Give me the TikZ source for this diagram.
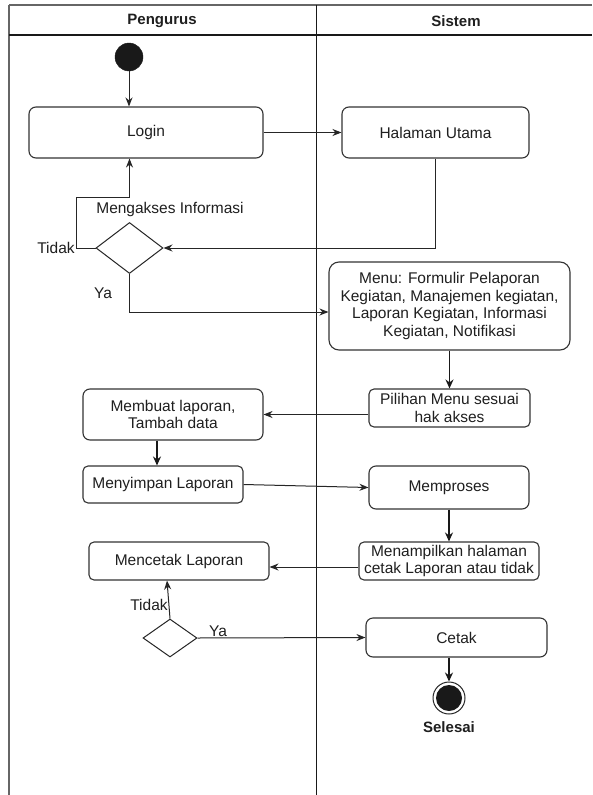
\documentclass[tikz,border=0pt]{standalone}
\usepackage{fontspec}
\setmainfont{Liberation Sans}
\usetikzlibrary{shapes.geometric,arrows.meta,calc}
\begin{document}
\begin{tikzpicture}[x=1pt,y=-1pt,
  every node/.style={font=\fontsize{15.5}{17.7}\selectfont, text=black!88},
  box/.style={draw=black!80, line width=1.1pt, rounded corners=7pt, inner sep=0pt, align=center},
  dec/.style={draw=black!85, line width=1pt, diamond, inner sep=0pt},
  arr/.style={draw=black!85, line width=1pt, -{Stealth[length=9pt,width=7pt]}},
  tarr/.style={draw=black!90, line width=1.8pt, -{Stealth[length=9pt,width=8pt]}},
  lab/.style={inner sep=0pt},
  hdr/.style={inner sep=0pt, font=\fontsize{15}{17}\selectfont\bfseries}
]
\useasboundingbox[fill=white] (0,0) rectangle (592,795);

% swimlane frame
\draw[black!60, line width=2pt] (9,5) -- (592,5);
\draw[black!60, line width=2pt] (9,5) -- (9,795);
\draw[black!90, line width=1.2pt] (9,35) -- (592,35);
\draw[black!90, line width=1pt] (316,5) -- (316,795);
\node[hdr] (pengurus) at (162,21) {Pengurus};
\node[hdr] (sistem) at (456,21) {Sistem};

% nodes
\node[circle, fill=black!90, draw=black!90, minimum size=28pt, inner sep=0pt] (start) at (129,57) {};
\node[box, minimum width=234pt, minimum height=51pt] (login) at (146,132.5) {Login};
\node[box, minimum width=187pt, minimum height=51pt] (halaman) at (435.5,132.5) {Halaman Utama};
\node[dec, minimum width=67pt, minimum height=51pt] (d1) at (129.5,248) {};
\node[lab] (meng) at (170,209) {Mengakses Informasi};
\node[lab] (tidak1) at (56,248) {Tidak};
\node[lab] (ya1) at (103,293) {Ya};
\node[box, rounded corners=10pt, minimum width=241pt, minimum height=88pt] (menu) at (449.5,306)
  {Menu: Formulir Pelaporan\\Kegiatan, Manajemen kegiatan,\\Laporan Kegiatan, Informasi\\Kegiatan, Notifikasi};
\node[box, rounded corners=5pt, minimum width=161pt, minimum height=38pt] (pilihan) at (449.5,408)
  {Pilihan Menu sesuai\\hak akses};
\node[box, minimum width=180pt, minimum height=51pt] (membuat) at (173,414.5)
  {Membuat laporan,\\Tambah data};
\node[box, rounded corners=5pt, minimum width=160pt, minimum height=37pt] (menyimpan) at (163,484.5)
  {Menyimpan Laporan};
\node[box, minimum width=160pt, minimum height=43pt] (memproses) at (449,487.5) {Memproses};
\node[box, rounded corners=5pt, minimum width=180pt, minimum height=38pt] (mencetak) at (179,561)
  {Mencetak Laporan};
\node[box, rounded corners=5pt, minimum width=180pt, minimum height=38pt] (menampilkan) at (449,561)
  {Menampilkan halaman\\cetak Laporan atau tidak};
\node[dec, minimum width=54pt, minimum height=38pt] (d2) at (170,638) {};
\node[lab] (tidak2) at (149,605) {Tidak};
\node[lab] (ya2) at (218,631) {Ya};
\node[box, minimum width=181pt, minimum height=39pt] (cetak) at (456.5,637.5) {Cetak};
\node[circle, draw=black!85, line width=1pt, minimum size=32pt, inner sep=0pt] (end) at (449,698) {};
\node[circle, fill=black!90, minimum size=26pt, inner sep=0pt] (endin) at (end) {};
\node[hdr] (selesai) at (449,727) {Selesai};

% helper coordinates
\coordinate (tk) at (76,197);
\coordinate (c1) at (157,0);
\coordinate (c2) at (167,0);

% connectors
\draw[arr] (start) -- (start |- login.north);
\draw[arr] (login.east) -- (halaman.west);
\draw[arr] (halaman.south) |- (d1.east);
\draw[arr] (d1.west) -| (tk) -| (login.south -| d1.north);
\draw[arr] (d1.south) |- ($(menu.west)+(0,6)$);
\draw[tarr] (menu.south) -- (pilihan.north);
\draw[arr] (pilihan.west |- membuat.east) -- (membuat.east);
\draw[tarr] (membuat.south -| c1) -- (menyimpan.north -| c1);
\draw[arr] (menyimpan.east) -- (memproses.west);
\draw[tarr] (memproses.south) -- (menampilkan.north);
\draw[arr] ($(menampilkan.west)+(0,6)$) -- ($(mencetak.east)+(0,6)$);
\draw[arr] (d2.north) -- (mencetak.south -| c2);
\draw[arr] (d2.east) -- (cetak.west);
\draw[tarr] (cetak.south -| end) -- (end.north);
\end{tikzpicture}
\end{document}
